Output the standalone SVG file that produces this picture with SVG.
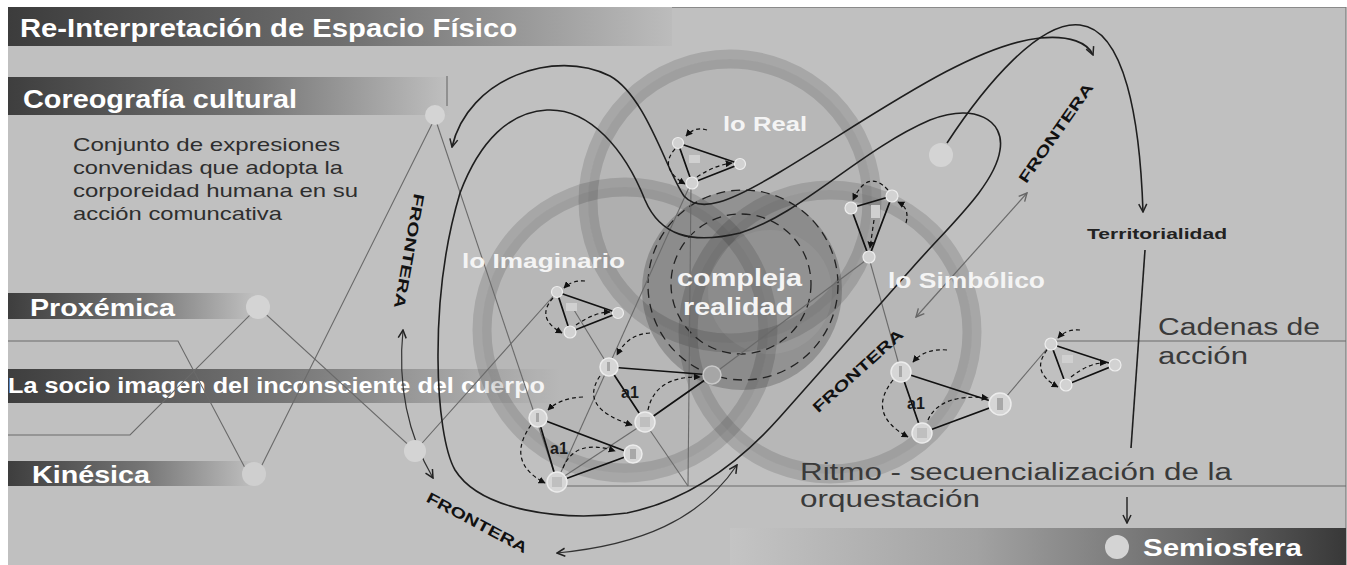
<svg xmlns="http://www.w3.org/2000/svg" width="1347" height="565" viewBox="0 0 1347 565">
<defs>
<style>
.bar{font-family:"Liberation Sans",Arial,sans-serif;font-weight:bold;fill:#fff}
.lbl{font-family:"Liberation Sans",Arial,sans-serif;font-weight:bold;fill:#f4f4f4}
.desc{font-family:"Liberation Sans",Arial,sans-serif;font-size:19px;fill:#2e2e2e}
.dark{font-family:"Liberation Sans",Arial,sans-serif;font-size:23px;fill:#3a3a3a}
.fr{font-family:"Liberation Sans",Arial,sans-serif;font-weight:bold;font-size:15px;fill:#111}
.a1{font-family:"Liberation Sans",Arial,sans-serif;font-weight:bold;font-size:16px;fill:#1a1a1a}
.thin{fill:none;stroke:#6a6a6a;stroke-width:1.1}
.curve{fill:none;stroke:#1e1e1e;stroke-width:1.6}
.dbl{fill:none;stroke:#333;stroke-width:1.2}
.tri{fill:none;stroke:#111;stroke-width:1.7}
.dash{fill:none;stroke:#111;stroke-width:1.2;stroke-dasharray:4 3}
.ring{fill:#000;fill-opacity:0.045;stroke:#000;stroke-opacity:0.13;stroke-width:19}
.bn{fill:#d6d6d6;stroke:#ececec;stroke-width:1.5}
.sn{fill:#d2d2d2;stroke:#eeeeee;stroke-width:1.2}
.mk{fill:#a8a8a8}
</style>
<linearGradient id="gTitle" gradientUnits="userSpaceOnUse" x1="8" y1="0" x2="672" y2="0">
<stop offset="0" stop-color="#3c3c3c"/><stop offset="0.5" stop-color="#6e6e6e"/><stop offset="1" stop-color="#bcbcbc"/></linearGradient>
<linearGradient id="gCore" gradientUnits="userSpaceOnUse" x1="8" y1="0" x2="450" y2="0">
<stop offset="0" stop-color="#3e3e3e"/><stop offset="0.55" stop-color="#747474"/><stop offset="1" stop-color="#c0c0c0"/></linearGradient>
<linearGradient id="gShort" gradientUnits="userSpaceOnUse" x1="8" y1="0" x2="255" y2="0">
<stop offset="0" stop-color="#3e3e3e"/><stop offset="0.55" stop-color="#767676"/><stop offset="1" stop-color="#c0c0c0"/></linearGradient>
<linearGradient id="gSocio" gradientUnits="userSpaceOnUse" x1="8" y1="0" x2="560" y2="0">
<stop offset="0" stop-color="#3e3e3e"/><stop offset="0.5" stop-color="#767676"/><stop offset="1" stop-color="#c0c0c0"/></linearGradient>
<linearGradient id="gSemi" gradientUnits="userSpaceOnUse" x1="730" y1="0" x2="1346" y2="0">
<stop offset="0" stop-color="#c4c4c4"/><stop offset="0.4" stop-color="#a2a2a2"/><stop offset="0.75" stop-color="#6a6a6a"/><stop offset="1" stop-color="#383838"/></linearGradient>
<marker id="ah" viewBox="0 0 10 10" refX="9" refY="5" markerWidth="10" markerHeight="10" markerUnits="userSpaceOnUse" orient="auto-start-reverse">
<path d="M1,1 L9,5 L1,9" fill="none" stroke="#222" stroke-width="1.5"/></marker>
<marker id="ahg" viewBox="0 0 10 10" refX="9" refY="5" markerWidth="10" markerHeight="10" markerUnits="userSpaceOnUse" orient="auto-start-reverse">
<path d="M1,1 L9,5 L1,9" fill="none" stroke="#666" stroke-width="1.4"/></marker>
<marker id="as" viewBox="0 0 10 10" refX="9" refY="5" markerWidth="7" markerHeight="7" markerUnits="userSpaceOnUse" orient="auto">
<path d="M0,0 L10,5 L0,10 Z" fill="#111"/></marker>
</defs>

<!-- background -->
<rect x="0" y="0" width="1347" height="565" fill="#ffffff"/>
<rect x="8" y="7" width="1338" height="558" fill="#c0c0c0"/>
<line x1="600" y1="7.5" x2="1346" y2="7.5" stroke="#8a8a8a" stroke-width="1"/>
<line x1="1346" y1="7" x2="1346" y2="565" stroke="#7a7a7a" stroke-width="1.2"/>

<!-- side bars -->
<g id="bar-title"><rect x="8" y="7" width="664" height="39" fill="url(#gTitle)"/>
<text class="bar" x="20" y="37" font-size="25" textLength="497" lengthAdjust="spacingAndGlyphs">Re-Interpretación de Espacio Físico</text></g>
<g id="bar-coreografia"><rect x="8" y="77" width="442" height="38" fill="url(#gCore)"/>
<text class="bar" x="23" y="108" font-size="25" textLength="274" lengthAdjust="spacingAndGlyphs">Coreografía cultural</text></g>
<g id="desc">
<text class="desc" x="73" y="151" textLength="267" lengthAdjust="spacingAndGlyphs">Conjunto de expresiones</text>
<text class="desc" x="73" y="174" textLength="270" lengthAdjust="spacingAndGlyphs">convenidas que adopta la</text>
<text class="desc" x="73" y="197" textLength="285" lengthAdjust="spacingAndGlyphs">corporeidad humana en su</text>
<text class="desc" x="73" y="220" textLength="209" lengthAdjust="spacingAndGlyphs">acción comuncativa</text>
</g>
<g id="bar-proxemica"><rect x="8" y="293" width="247" height="26" fill="url(#gShort)"/>
<text class="bar" x="30" y="316" font-size="24" textLength="145" lengthAdjust="spacingAndGlyphs">Proxémica</text></g>
<g id="bar-socio"><rect x="8" y="369" width="552" height="34" fill="url(#gSocio)"/>
<text class="bar" x="8" y="393" font-size="22" textLength="537" lengthAdjust="spacingAndGlyphs">La socio imagen del inconsciente del cuerpo</text></g>
<g id="bar-kinesica"><rect x="8" y="461" width="247" height="25" fill="url(#gShort)"/>
<text class="bar" x="32" y="483" font-size="24" textLength="118" lengthAdjust="spacingAndGlyphs">Kinésica</text></g>
<g id="bar-semiosfera"><rect x="730" y="528" width="616" height="37" fill="url(#gSemi)"/>
<circle cx="1117" cy="547" r="12" fill="#d4d4d4"/>
<text class="bar" x="1143" y="556" font-size="24" textLength="159" lengthAdjust="spacingAndGlyphs">Semiosfera</text></g>

<!-- big circles -->
<g id="circle-real"><circle class="ring" cx="730" cy="201" r="142"/></g>
<g id="circle-imaginario"><circle class="ring" cx="625" cy="330" r="143"/></g>
<g id="circle-simbolico"><circle class="ring" cx="830" cy="332" r="142"/></g>
<g id="compleja-realidad">
<circle cx="742" cy="290" r="100" fill="#000" fill-opacity="0.2"/>
<circle cx="770" cy="292" r="62" fill="#fff" fill-opacity="0.06"/>
<circle cx="743" cy="285" r="95" fill="none" stroke="#222" stroke-width="1.3" stroke-dasharray="9 6"/>
<circle cx="741" cy="284" r="70" fill="none" stroke="#222" stroke-width="1.3" stroke-dasharray="9 6"/>
</g>

<!-- connectors -->
<g id="connectors">
<polyline class="thin" points="8,341 178,341 253,483 435,118"/>
<polyline class="thin" points="8,435 130,435 258,307 415,451 557,292"/>
<line class="thin" x1="435" y1="118" x2="557" y2="481"/>
<line class="thin" x1="447" y1="76" x2="447" y2="106"/>
<line class="thin" x1="691" y1="183" x2="557" y2="481"/>
<line class="thin" x1="691" y1="185" x2="688" y2="486"/>
<line class="thin" x1="557" y1="486" x2="1346" y2="486"/>
<line class="thin" x1="574" y1="310" x2="609" y2="367"/>
<line class="thin" x1="645" y1="423" x2="688" y2="486"/>
<line class="thin" x1="557" y1="481" x2="645" y2="423"/>
<line class="thin" x1="869" y1="258" x2="712" y2="375"/>
<line class="thin" x1="869" y1="258" x2="901" y2="372"/>
<line class="thin" x1="1000" y1="404" x2="1051" y2="344"/>
<line class="thin" x1="1051" y1="341" x2="1346" y2="341"/>

<path class="curve" d="M452,147 C468,78 555,48 610,76 C646,96 666,170 684,196 C700,214 730,202 780,172 C870,118 970,45 1040,38 C1070,35 1088,43 1093,55" marker-start="url(#ah)" marker-end="url(#ah)"/>
<path class="curve" d="M947,143 C985,85 1040,20 1080,25 C1125,30 1140,120 1143,212" marker-end="url(#ah)"/>
<path class="curve" d="M460,193 C480,140 510,112 547,110 C590,108 625,150 645,200 C660,235 690,245 740,233 C800,215 860,150 930,120 C975,103 1005,120 1000,150 C995,185 950,225 913,267 L780,417 C740,462 690,500 627,513 C560,522 480,510 455,470 C435,435 428,300 460,193 Z"/>
<line x1="1145" y1="250" x2="1131" y2="448" stroke="#1e1e1e" stroke-width="1.6"/>
<line x1="1127" y1="497" x2="1127" y2="523" stroke="#1e1e1e" stroke-width="1.4" marker-end="url(#ah)"/>

<path class="dbl" d="M403,330 C398,380 405,430 433,478" marker-start="url(#ah)" marker-end="url(#ah)"/>
<path class="dbl" d="M557,553 C640,545 700,520 737,465" marker-start="url(#ah)" marker-end="url(#ah)"/>
<line x1="1027" y1="193" x2="916" y2="317" stroke="#6a6a6a" stroke-width="1.2" marker-start="url(#ahg)" marker-end="url(#ahg)"/>
</g>

<!-- light circle nodes -->
<g id="node-coreografia"><circle cx="435" cy="115" r="10" fill="#d4d4d4"/></g>
<g id="node-proxemica"><circle cx="258" cy="307" r="12" fill="#d4d4d4"/></g>
<g id="node-kinesica"><circle cx="254" cy="474" r="12" fill="#cfcfcf"/></g>
<g id="node-frontera"><circle cx="415" cy="451" r="11" fill="#d4d4d4"/></g>
<g id="node-right"><circle cx="941" cy="155" r="12" fill="#d4d4d4"/></g>

<!-- triangle T1 (lo Real) -->
<g id="tri-real">
<path class="tri" d="M678,143 L740,164 L692,183 Z"/>
<rect x="689" y="155" width="11" height="8" fill="#d0d0d0"/>
<path class="dash" d="M707,130 Q695,126 686,136" marker-end="url(#as)"/>
<path class="dash" d="M675,149 Q658,168 685,184" marker-end="url(#as)"/>
<path class="dash" d="M697,177 Q715,165 732,163" marker-end="url(#as)"/>
<circle class="sn" cx="678" cy="143" r="5.5"/><circle class="sn" cx="740" cy="164" r="5.5"/><circle class="sn" cx="692" cy="183" r="6"/>
</g>
<!-- triangle T2 (lo Imaginario upper) -->
<g id="tri-imag1">
<path class="tri" d="M557,292 L618,313 L570,332 Z"/>
<rect x="566" y="303" width="11" height="8" fill="#d0d0d0"/>
<path class="dash" d="M585,281 Q572,280 564,288" marker-end="url(#as)"/>
<path class="dash" d="M553,298 Q535,318 562,333" marker-end="url(#as)"/>
<path class="dash" d="M576,325 Q595,312 610,312" marker-end="url(#as)"/>
<circle class="sn" cx="557" cy="292" r="5.5"/><circle class="sn" cx="618" cy="313" r="5.5"/><circle class="sn" cx="570" cy="332" r="6"/>
</g>
<!-- triangle T3 -->
<g id="tri-a1-center">
<path class="tri" d="M609,367 L712,375 M609,367 L645,422 L712,375"/>
<path class="dash" d="M650,333 Q628,334 617,355" marker-end="url(#as)"/>
<path class="dash" d="M600,376 Q578,408 632,425" marker-end="url(#as)"/>
<path class="dash" d="M648,410 Q655,376 700,377" marker-end="url(#as)"/>
<text class="a1" x="621" y="398">a1</text>
<circle class="bn" cx="609" cy="367" r="9"/><circle cx="712" cy="375" r="9" fill="#a6a6a6" stroke="#c8c8c8" stroke-width="1.5"/><circle class="bn" cx="645" cy="422" r="10"/>
<rect x="607" y="362" width="3" height="9" class="mk"/><rect x="640" y="417" width="10" height="10" class="mk" fill-opacity="0.5"/>
</g>
<!-- triangle T4 -->
<g id="tri-a1-left">
<path class="tri" d="M538,418 L633,454 L557,482 Z"/>
<path class="dash" d="M583,397 Q560,398 548,410" marker-end="url(#as)"/>
<path class="dash" d="M531,425 Q505,462 545,483" marker-end="url(#as)"/>
<path class="dash" d="M563,468 Q575,438 615,451" marker-end="url(#as)"/>
<text class="a1" x="550" y="454">a1</text>
<circle class="bn" cx="538" cy="418" r="9"/><circle class="bn" cx="633" cy="454" r="9"/><circle class="bn" cx="557" cy="482" r="10"/>
<rect x="536" y="413" width="3" height="9" class="mk"/><rect x="630" y="449" width="6" height="10" class="mk"/><rect x="552" y="477" width="10" height="10" class="mk" fill-opacity="0.5"/>
</g>
<!-- triangle T5 (lo Simbólico upper) -->
<g id="tri-simb1">
<path class="tri" d="M851,208 L892,196 L869,257 Z"/>
<rect x="871" y="205" width="9" height="13" fill="#d0d0d0"/>
<path class="dash" d="M888,190 Q868,168 853,200" marker-end="url(#as)"/>
<path class="dash" d="M906,223 Q910,208 898,202" marker-end="url(#as)"/>
<path class="dash" d="M874,220 L870,248" marker-end="url(#as)"/>
<circle class="sn" cx="851" cy="208" r="6"/><circle class="sn" cx="892" cy="196" r="6"/><circle class="sn" cx="869" cy="257" r="6"/>
</g>
<!-- triangle T6 -->
<g id="tri-a1-right">
<path class="tri" d="M901,372 L1000,404 L922,433 Z"/>
<path class="dash" d="M947,350 Q925,348 913,362" marker-end="url(#as)"/>
<path class="dash" d="M893,380 Q866,414 908,437" marker-end="url(#as)"/>
<path class="dash" d="M928,420 Q940,393 988,398" marker-end="url(#as)"/>
<text class="a1" x="907" y="409">a1</text>
<circle class="bn" cx="901" cy="372" r="10"/><circle class="bn" cx="1000" cy="404" r="11"/><circle class="bn" cx="922" cy="433" r="10"/>
<rect x="899" y="366" width="3" height="11" class="mk"/><rect x="997" y="398" width="6" height="12" class="mk"/><rect x="917" y="428" width="10" height="10" class="mk" fill-opacity="0.5"/>
</g>
<!-- triangle T7 -->
<g id="tri-cadenas">
<path class="tri" d="M1051,344 L1115,365 L1066,385 Z"/>
<rect x="1062" y="355" width="11" height="8" fill="#d0d0d0"/>
<path class="dash" d="M1080,330 Q1066,329 1058,338" marker-end="url(#as)"/>
<path class="dash" d="M1047,350 Q1030,372 1058,387" marker-end="url(#as)"/>
<path class="dash" d="M1071,377 Q1090,362 1106,363" marker-end="url(#as)"/>
<circle class="sn" cx="1051" cy="344" r="6"/><circle class="sn" cx="1115" cy="365" r="6"/><circle class="sn" cx="1066" cy="385" r="6"/>
</g>

<!-- labels -->
<g id="labels">
<text class="lbl" x="723" y="131" font-size="21" textLength="84" lengthAdjust="spacingAndGlyphs">lo Real</text>
<text class="lbl" x="462" y="268" font-size="21" textLength="163" lengthAdjust="spacingAndGlyphs">lo Imaginario</text>
<text class="lbl" x="677" y="286" font-size="24" textLength="125" lengthAdjust="spacingAndGlyphs">compleja</text>
<text class="lbl" x="683" y="315" font-size="24" textLength="110" lengthAdjust="spacingAndGlyphs">realidad</text>
<text class="lbl" x="888" y="288" font-size="22" textLength="157" lengthAdjust="spacingAndGlyphs">lo Simbólico</text>
<text x="1087" y="239" font-family="Liberation Sans, Arial, sans-serif" font-weight="bold" font-size="14" fill="#222" textLength="140" lengthAdjust="spacingAndGlyphs">Territorialidad</text>
<text class="dark" x="1158" y="335" textLength="162" lengthAdjust="spacingAndGlyphs">Cadenas de</text>
<text class="dark" x="1158" y="364" textLength="90" lengthAdjust="spacingAndGlyphs">acción</text>
<text class="dark" x="800" y="480" textLength="432" lengthAdjust="spacingAndGlyphs">Ritmo - secuencialización de la</text>
<text class="dark" x="800" y="507" textLength="180" lengthAdjust="spacingAndGlyphs">orquestación</text>
<text class="fr" transform="translate(409,251) rotate(100)" x="0" y="5" text-anchor="middle" textLength="116" lengthAdjust="spacingAndGlyphs">FRONTERA</text>
<text class="fr" transform="translate(1056,133) rotate(-55)" x="0" y="5" text-anchor="middle" textLength="118" lengthAdjust="spacingAndGlyphs">FRONTERA</text>
<text class="fr" transform="translate(858,371) rotate(-42)" x="0" y="5" text-anchor="middle" textLength="116" lengthAdjust="spacingAndGlyphs">FRONTERA</text>
<text class="fr" transform="translate(477,523) rotate(28)" x="0" y="5" text-anchor="middle" textLength="112" lengthAdjust="spacingAndGlyphs">FRONTERA</text>
</g>
</svg>
